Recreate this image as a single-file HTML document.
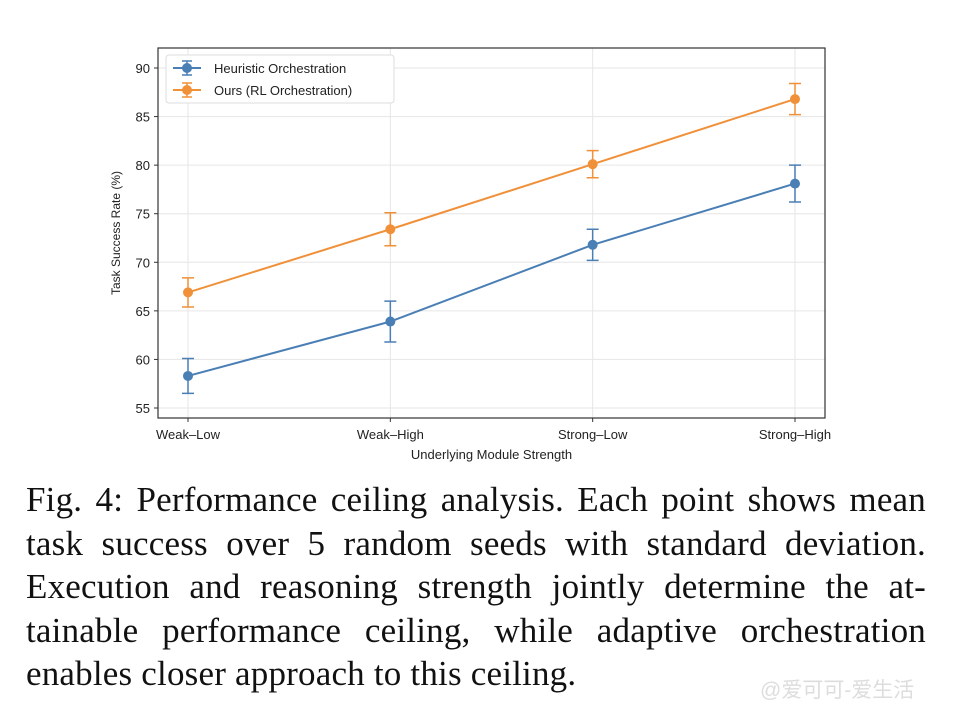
<!DOCTYPE html>
<html><head><meta charset="utf-8"><style>
body{margin:0;background:#fff;width:956px;height:708px;overflow:hidden;position:relative}
#cap{position:absolute;left:26px;top:478px;width:900px;font-family:"Liberation Serif",serif;font-size:35px;letter-spacing:0.2px;line-height:43.6px;color:#111}
#cap div{text-align:justify;text-align-last:justify;white-space:nowrap}
#cap div.last{text-align-last:left}
#wm{position:absolute;left:760px;top:674px;font-family:"Liberation Sans","Noto Sans CJK SC",sans-serif;font-size:21px;color:#ddd}
</style></head><body>
<svg id="chart" width="956" height="470" style="position:absolute;left:0;top:0" font-family="Liberation Sans, DejaVu Sans, sans-serif"></svg>
<div id="cap">
<div>Fig. 4: Performance ceiling analysis. Each point shows mean</div>
<div>task success over 5 random seeds with standard deviation.</div>
<div>Execution and reasoning strength jointly determine the at-</div>
<div>tainable performance ceiling, while adaptive orchestration</div>
<div class="last">enables closer approach to this ceiling.</div>
</div>
<div id="wm">@爱可可-爱生活</div>
<script>
const categories=["Weak–Low","Weak–High","Strong–Low","Strong–High"];
const heurMean=[58.3,63.9,71.8,78.1];
const heurStd=[1.8,2.1,1.6,1.9];
const oursMean=[66.9,73.4,80.1,86.8];
const oursStd=[1.5,1.7,1.4,1.6];
const yTicks=[55,60,65,70,75,80,85,90];
const svg=document.getElementById('chart');
const NS='http://www.w3.org/2000/svg';
const L=158,R=825,T=48,B=418;
const x=i=>188+i*(795-188)/(categories.length-1);
const y=v=>408-(v-55)*(408-68)/35;
function mk(t,a,p){const e=document.createElementNS(NS,t);for(const k in a)e.setAttribute(k,a[k]);(p||svg).appendChild(e);return e;}
yTicks.forEach(v=>{
 const g=mk('line',{x1:L,x2:R,y1:y(v),y2:y(v),stroke:'#e6e6e6'});
 
 
 mk('line',{x1:L-4,x2:L,y1:y(v),y2:y(v),stroke:'#333'});
 const t=mk('text',{x:L-8,y:y(v)+5,'text-anchor':'end','font-size':13,fill:'#222'});t.textContent=v;
 
 
});
categories.forEach((c,i)=>{
 const g=mk('line',{x1:x(i),x2:x(i),y1:T,y2:B,stroke:'#e6e6e6'});
 
 
 mk('line',{x1:x(i),x2:x(i),y1:B,y2:B+4,stroke:'#333'});
 const t=mk('text',{x:x(i),y:B+21,'text-anchor':'middle','font-size':13,fill:'#222'});t.textContent=c;
 
 
});
const fr=mk('rect',{x:L,y:T,width:R-L,height:B-T,fill:'none',stroke:'#333','stroke-width':1.2});


function series(m,s,col,name){
 const g=mk('g',{});
 
 
 mk('polyline',{points:m.map((v,i)=>x(i)+','+y(v)).join(' '),fill:'none',stroke:col,'stroke-width':2},g);
 m.forEach((v,i)=>{
  const e=mk('path',{d:`M${x(i)},${y(v-s[i])}V${y(v+s[i])}M${x(i)-6},${y(v-s[i])}h12M${x(i)-6},${y(v+s[i])}h12`,stroke:col,'stroke-width':1.5,fill:'none'},g);
  
  
  const c=mk('circle',{cx:x(i),cy:y(v),r:5,fill:col},g);
  
  
 });
}
series(heurMean,heurStd,'#4a7fb5','heuristic-series');
series(oursMean,oursStd,'#f0913a','ours-series');
const lg=mk('g',{});


mk('rect',{x:166,y:55,width:228,height:48,rx:3,fill:'#fff',stroke:'#ddd'},lg);
[['Heuristic Orchestration','#4a7fb5',68],['Ours (RL Orchestration)','#f0913a',90]].forEach(([n,c,yy])=>{
 mk('line',{x1:173,x2:201,y1:yy,y2:yy,stroke:c,'stroke-width':2},lg);
 mk('path',{d:`M187,${yy-7}V${yy+7}M182,${yy-7}h10M182,${yy+7}h10`,stroke:c,'stroke-width':1.5},lg);
 mk('circle',{cx:187,cy:yy,r:5,fill:c},lg);
 const t=mk('text',{x:214,y:yy+5,'font-size':13,fill:'#222'},lg);t.textContent=n;
 
 
});
const xt=mk('text',{x:(L+R)/2,y:459,'text-anchor':'middle','font-size':13,fill:'#222'});xt.textContent='Underlying Module Strength';


const yt=mk('text',{x:0,y:0,'text-anchor':'middle','font-size':12,fill:'#222',transform:`translate(120,${(T+B)/2}) rotate(-90)`});yt.textContent='Task Success Rate (%)';


</script>
</body></html>
